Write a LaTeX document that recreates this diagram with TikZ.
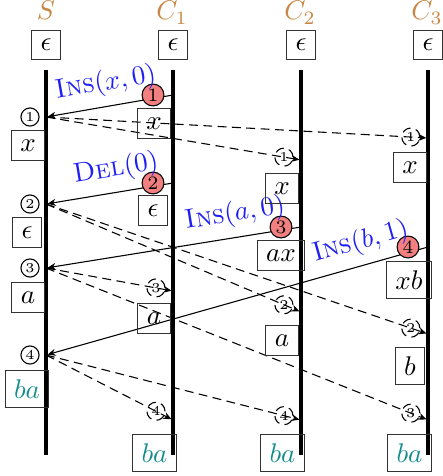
\documentclass[tikz,border=0pt]{standalone}
\usetikzlibrary{arrows.meta}
\definecolor{proccol}{RGB}{200,135,70}
\definecolor{opcol}{RGB}{30,30,245}
\definecolor{finalcol}{RGB}{20,140,140}
\definecolor{evcol}{RGB}{242,128,128}
\tikzset{
  procname/.style={text=proccol, anchor=base, inner sep=0pt},
  procline/.style={line width=1.2pt},
  docbox/.style={draw=black!80, line width=0.4pt, inner sep=3.33pt},
  finalbox/.style={docbox, text=finalcol},
  opmsg/.style={-{Stealth[length=3pt,width=2.6pt]}, line width=0.4pt, shorten >=0.6pt},
  bcast/.style={-{Stealth[length=3pt,width=2.6pt]}, line width=0.4pt, dash pattern=on 3.3pt off 2pt, shorten >=0.6pt},
  evnum/.style={circle, draw, fill=evcol, line width=0.4pt, minimum size=8.1pt, inner sep=0pt, font=\scriptsize},
  seqnum/.style={circle, draw, line width=0.4pt, minimum size=6.7pt, inner sep=0pt, font=\tiny},
  oplabel/.style={text=opcol, sloped, above}
}
\begin{document}
\begin{tikzpicture}[x=0.37pt, y=-0.37pt]
\useasboundingbox (0,0) rectangle (442,476);

% process names and initial states
\foreach \px/\nm/\lab in {46/S/S, 172/C1/C_1, 300/C2/C_2, 427/C3/C_3} {
  \node[procname] (name\nm) at (\px,20) {$\lab$};
}
\foreach \px/\nm in {46/S, 173/C1, 301/C2, 428/C3} {
  \node[docbox] (init\nm) at (\px,45) {$\epsilon$};
  \draw[procline] (\px,70) coordinate (top\nm) -- (\px,455) coordinate (bot\nm);
}

% local operations at the clients
\coordinate (c1a) at (173,95);
\coordinate (c1b) at (173,183);
\coordinate (c2a) at (301,227);
\coordinate (c3a) at (428,247);
% arrivals at the server
\coordinate (s1) at (46,117);
\coordinate (s2) at (46,204);
\coordinate (s3) at (46,268);
\coordinate (s4) at (46,355);
% arrivals at the clients
\coordinate (r21) at (301,160);
\coordinate (r31) at (428,138);
\coordinate (r22) at (301,312);
\coordinate (r32) at (428,334);
\coordinate (r13) at (173,291);
\coordinate (r33) at (428,420);
\coordinate (r14) at (173,420);
\coordinate (r24) at (301,420);

% broadcasts from the server
\draw[bcast] (s1) -- (r21) node[seqnum, pos=0.933] (n21) {1};
\draw[bcast] (s1) -- (r31) node[seqnum, pos=0.955] (n31) {1};
\draw[bcast] (s2) -- (r22) node[seqnum, pos=0.933] (n22) {2};
\draw[bcast] (s2) -- (r32) node[seqnum, pos=0.955] (n32) {2};
\draw[bcast] (s3) -- (r13) node[seqnum, pos=0.866] (n13) {3};
\draw[bcast] (s3) -- (r33) node[seqnum, pos=0.955] (n33) {3};
\draw[bcast] (s4) -- (r14) node[seqnum, pos=0.866] (n14) {4};
\draw[bcast] (s4) -- (r24) node[seqnum, pos=0.933] (n24) {4};

% operations sent to the server
\draw[opmsg] (c1a) -- (s1);
\draw[opmsg] (c1b) -- (s2);
\draw[opmsg] (c2a) -- (s3);
\draw[opmsg] (c3a) -- (s4);
\node[evnum] (ev1) at (153,95) {1};
\node[evnum] (ev2) at (153,183) {2};
\node[evnum] (ev3) at (281,227) {3};
\node[evnum] (ev4) at (408,247) {4};
\path (c1a) -- (s1) node[oplabel, pos=0.5] (op1) {\textsc{Ins}$(x,0)$};
\path (c1b) -- (s2) node[oplabel, pos=0.42] (op2) {\textsc{Del}$(0)$};
\path (c2a) -- (s3) node[oplabel, pos=0.245] (op3) {\textsc{Ins}$(a,0)$};
\path (c3a) -- (s4) node[oplabel, pos=0.16] (op4) {\textsc{Ins}$(b,1)$};

% server sequence numbers and states
\node[seqnum] (ns1) at (30,117) {1};
\node[seqnum] (ns2) at (30,204) {2};
\node[seqnum] (ns3) at (30,268) {3};
\node[seqnum] (ns4) at (30,355) {4};
\node[docbox, anchor=north] (st1) at (28,130) {$x$};
\node[docbox, anchor=north] (st2) at (27,217) {$\epsilon$};
\node[docbox, anchor=north] (st3) at (28,282) {$a$};
\node[finalbox, anchor=north] (st4) at (27,370) {$ba$};

% client states
\node[docbox, anchor=north] (c1st1) at (154,108) {$x$};
\node[docbox, anchor=north] (c1st2) at (153,195) {$\epsilon$};
\node[docbox, anchor=north] (c1st3) at (154,303) {$a$};
\node[finalbox, anchor=north] (c1st4) at (154.5,434) {$ba$};
\node[docbox, anchor=north] (c2st1) at (282,173) {$x$};
\node[docbox, anchor=north] (c2st2) at (281,240) {$ax$};
\node[docbox, anchor=north] (c2st3) at (282,325) {$a$};
\node[finalbox, anchor=north] (c2st4) at (282.5,434) {$ba$};
\node[docbox, anchor=north] (c3st1) at (410,152) {$x$};
\node[docbox, anchor=north] (c3st2) at (409,261) {$xb$};
\node[docbox, anchor=north] (c3st3) at (410,347) {$b$};
\node[finalbox, anchor=north] (c3st4) at (409.5,434) {$ba$};
\end{tikzpicture}
\end{document}
